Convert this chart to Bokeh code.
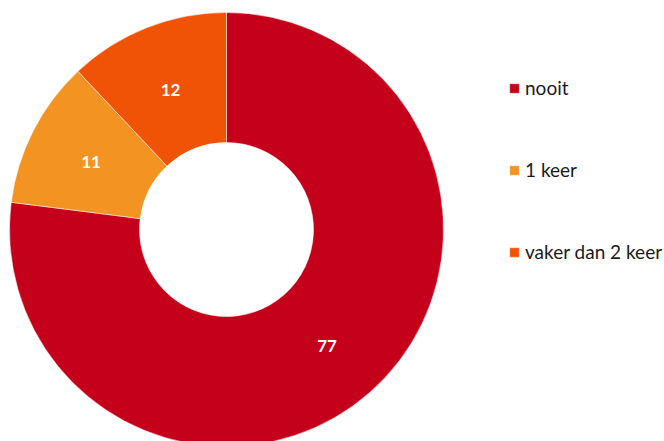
import math
from bokeh.plotting import figure
from bokeh.models import Range1d, Legend, LegendItem, ColumnDataSource
from bokeh.core.properties import value
from bokeh.embed import file_html
from bokeh.resources import INLINE

categories = ["nooit", "1 keer", "vaker dan 2 keer"]
values = [77, 11, 12]
colors = ["#C4001A", "#F39322", "#F05206"]

W, H = 664, 441
p = figure(width=W, height=H, output_backend="svg", toolbar_location=None,
           x_range=Range1d(0, W), y_range=Range1d(0, H), min_border=0)
p.axis.visible = False
p.grid.visible = False
p.outline_line_color = None
p.background_fill_color = "white"

cx, cy = 226, H - 229
r_out, r_in = 217, 87
total = sum(values)
starts, ends, lx, ly, labels = [], [], [], [], []
cum = 0
for v in values:
    s = math.pi / 2 - 2 * math.pi * cum / total
    cum += v
    e = math.pi / 2 - 2 * math.pi * cum / total
    starts.append(s)
    ends.append(e)
    m = (s + e) / 2
    rm = (r_out + r_in) / 2
    lx.append(cx + rm * math.cos(m))
    ly.append(cy + rm * math.sin(m))
    labels.append(str(v))

src = ColumnDataSource(dict(start=starts, end=ends, color=colors, cat=categories,
                            lx=lx, ly=ly, label=labels))
wedges = p.annular_wedge(x=cx, y=cy, inner_radius=r_in, outer_radius=r_out,
                         start_angle="start", end_angle="end", direction="clock",
                         fill_color="color", line_color="white", line_width=0.5,
                         source=src)
p.text(x="lx", y="ly", text="label", source=src, text_color="white",
       text_font=value("Lato"), text_font_style="bold", text_font_size="17px",
       text_align="center", text_baseline="middle", y_offset=2)

items = [LegendItem(label=c, renderers=[wedges], index=i) for i, c in enumerate(categories)]
legend = Legend(items=items, location=(508, 178), orientation="vertical",
                glyph_width=12, glyph_height=12, label_standoff=5, spacing=59,
                label_text_font="Lato", label_text_font_size="19px",
                label_text_color="#1a1a1a", padding=0, margin=0,
                border_line_color=None, background_fill_alpha=0)
p.add_layout(legend, "center")

open("out.html", "w").write(file_html(p, INLINE))
